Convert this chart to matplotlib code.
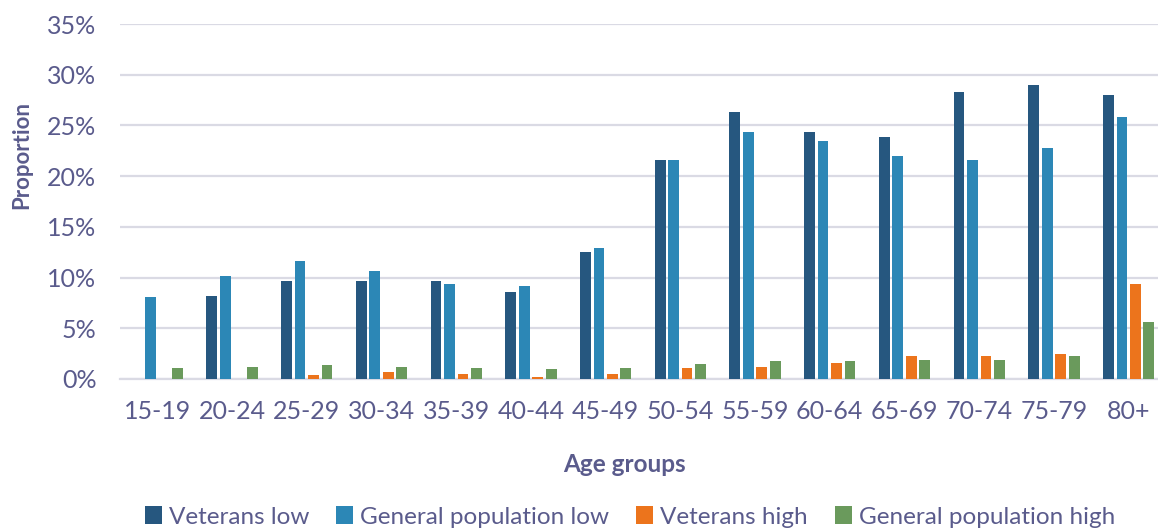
import numpy as np
import matplotlib
matplotlib.use("Agg")
import matplotlib.pyplot as plt
from matplotlib.ticker import PercentFormatter

age_groups = ["15-19", "20-24", "25-29", "30-34", "35-39", "40-44", "45-49",
              "50-54", "55-59", "60-64", "65-69", "70-74", "75-79", "80+"]

veterans_low = [0.0, 8.2, 9.7, 9.7, 9.7, 8.6, 12.5, 21.6, 26.3, 24.4, 23.9, 28.3, 29.0, 28.0]
general_low = [8.1, 10.2, 11.6, 10.6, 9.4, 9.2, 12.9, 21.6, 24.4, 23.5, 22.0, 21.6, 22.8, 25.8]
veterans_high = [0.0, 0.0, 0.4, 0.7, 0.5, 0.2, 0.5, 1.1, 1.2, 1.6, 2.3, 2.3, 2.5, 9.4]
general_high = [1.1, 1.2, 1.4, 1.2, 1.1, 1.0, 1.1, 1.5, 1.8, 1.8, 1.9, 1.9, 2.3, 5.6]

series_names = ["Veterans low", "General population low", "Veterans high", "General population high"]
series_values = [veterans_low, general_low, veterans_high, general_high]
series_colors = ["#26577F", "#2C87B6", "#EC741C", "#6A9A5C"]

text_color = "#5A5B8C"
grid_color = "#DADAE4"
font = "Lato"

W, H = 1158, 530
fig = plt.figure(figsize=(W / 100, H / 100), dpi=100)
left_px, right_px, top_px, bottom_px = 120, 1166, 24, 379
ax = fig.add_axes([left_px / W, 1 - bottom_px / H,
                   (right_px - left_px) / W, (bottom_px - top_px) / H])

x = np.arange(len(age_groups))
pitch = 0.18
width = 0.145
for k, (name, vals, col) in enumerate(zip(series_names, series_values, series_colors)):
    ax.bar(x + (k - 1.5) * pitch, vals, width=width, color=col, label=name, zorder=3)

ax.set_xlim(-0.5, len(age_groups) - 0.5)
ax.set_ylim(0, 35)
ax.set_yticks(np.arange(0, 36, 5))
ax.yaxis.set_major_formatter(PercentFormatter(decimals=0))
ax.grid(axis="y", color=grid_color, linewidth=1.6, zorder=0)
ax.set_axisbelow(True)
for side in ["top", "right", "left"]:
    ax.spines[side].set_visible(False)
ax.spines["bottom"].set_color(grid_color)
ax.spines["bottom"].set_linewidth(1.6)
ax.set_xticks(x)
ax.set_xticklabels(age_groups)
ax.tick_params(axis="both", length=0, labelcolor=text_color, labelsize=18)
ax.tick_params(axis="x", pad=15)
ax.tick_params(axis="y", pad=17)
for lbl in ax.get_xticklabels() + ax.get_yticklabels():
    lbl.set_fontfamily(font)

fig.text(22 / W, 1 - 155 / H, "Proportion", rotation=90, ha="center", va="center",
         fontsize=16, fontweight="bold", color=text_color, family=font)
fig.text(624 / W, 1 - 465 / H, "Age groups", ha="center", va="center",
         fontsize=17.5, fontweight="bold", color=text_color, family=font)

leg = fig.legend(loc="center", bbox_to_anchor=(630 / W, 1 - 517 / H), ncol=4,
                 frameon=False, handlelength=0.7, handleheight=0.7,
                 handletextpad=0.3, columnspacing=1.1,
                 prop={"family": font, "size": 17.5})
for t in leg.get_texts():
    t.set_color(text_color)

fig.savefig("out.png", dpi=100)
